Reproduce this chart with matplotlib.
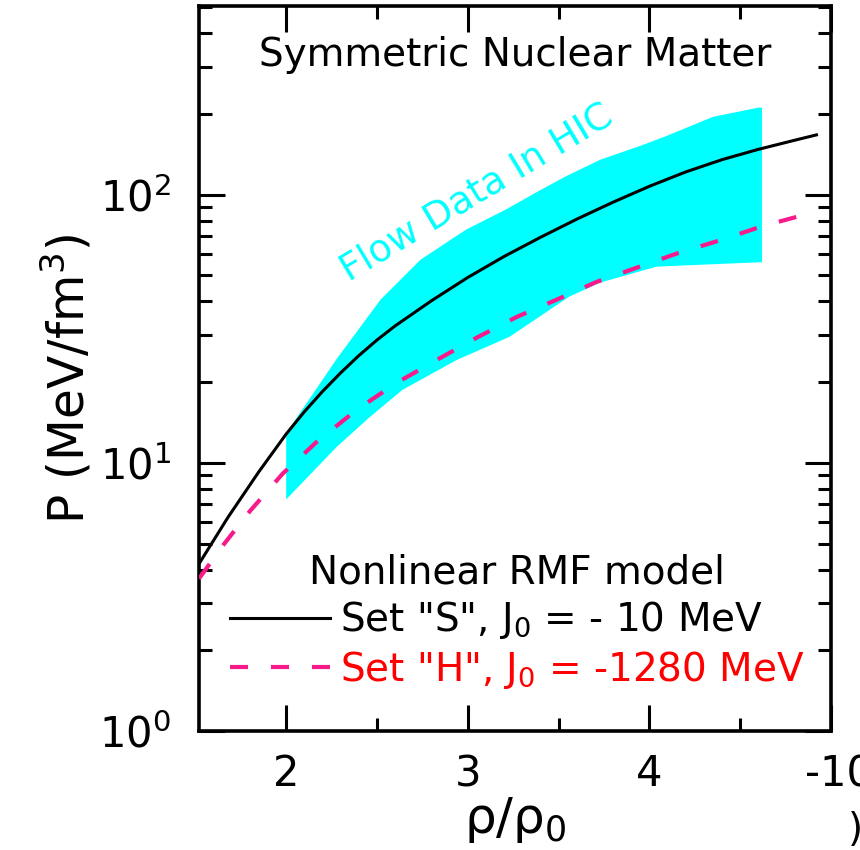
import matplotlib
matplotlib.use("Agg")
import matplotlib.pyplot as plt
from matplotlib.ticker import FixedLocator, LogLocator, NullFormatter
from matplotlib.transforms import ScaledTranslation

plt.rcParams['font.family'] = ['DejaVu Sans']
plt.rcParams['mathtext.fontset'] = 'dejavusans'
plt.rcParams['lines.scale_dashes'] = False

# ---------------- data ----------------
# Set "S" (solid black)
s_x = [1.52, 1.68, 1.85, 2.0, 2.1, 2.2, 2.3, 2.4, 2.5, 2.6, 2.8, 3.0, 3.2, 3.4, 3.6, 3.8, 4.0, 4.2, 4.4, 4.6, 4.8, 4.92]
s_p = [4.2, 6.27, 9.27, 12.8, 15.5, 18.45, 21.65, 25.1, 28.7, 32.4, 40.2, 49.1, 58.8, 69.3, 81.0, 93.7, 107.4, 121.5, 135.0, 147.5, 159.5, 167.0]

# Set "H" (dashed pink)
h_x = [1.52, 1.66, 1.80, 1.98, 2.17, 2.39, 2.61, 2.83, 3.05, 3.27, 3.49, 3.71, 4.16, 4.40, 4.62, 4.92]
h_p = [3.7, 5.0, 6.6, 9.1, 12.0, 15.8, 19.9, 24.2, 29.3, 35.0, 40.6, 47.3, 60.6, 67.9, 76.2, 86.5]

# Flow data band (upper and lower edges)
band_up_x = [2.0, 2.28, 2.52, 2.74, 2.99, 3.21, 3.40, 3.54, 3.73, 3.95, 4.09, 4.35, 4.60, 4.62]
band_up_p = [12.9, 24.5, 40.6, 57.2, 74.0, 88.0, 104.0, 117.0, 135.0, 152.0, 165.0, 195.0, 211.0, 211.0]
band_lo_x = [2.0, 2.28, 2.46, 2.64, 2.94, 3.23, 3.56, 3.73, 4.04, 4.62]
band_lo_p = [7.3, 11.5, 14.8, 18.7, 24.2, 29.5, 41.7, 47.0, 53.9, 56.0]

x_ticks = [2, 3, 4, 5]
x_ticklabels = ['2', '3', '4', '-10']
x_minor = [2.5, 3.5, 4.5]

label_s = r'Set "S", $\mathrm{J}_0$ = - 10 MeV'
label_h = r'Set "H", $\mathrm{J}_0$ = -1280 MeV'

# ---------------- figure ----------------
fig = plt.figure(figsize=(8.6, 8.5), dpi=100)
ax = fig.add_axes([199/860, 1-731/850, 632/860, 725/850])

poly_x = band_up_x + band_lo_x[::-1]
poly_p = band_up_p + band_lo_p[::-1]
ax.fill(poly_x, poly_p, color='#00FFFF', lw=0, zorder=1)

ln_s, = ax.plot(s_x, s_p, color='black', lw=2.2, zorder=3, label=label_s)
ln_h, = ax.plot(h_x, h_p, color='#F8198A', lw=3.0, dashes=(13, 16.5), zorder=3, label=label_h)

ax.set_yscale('log')
ax.set_xlim(1.52, 5.0)
ax.set_ylim(1, 505)

ax.xaxis.set_major_locator(FixedLocator(x_ticks))
ax.set_xticklabels(x_ticklabels)
ax.xaxis.set_minor_locator(FixedLocator(x_minor))
ax.yaxis.set_major_locator(LogLocator(base=10, numticks=10))
ax.yaxis.set_minor_locator(LogLocator(base=10, subs=[2, 3, 4, 5, 6, 7, 8, 9], numticks=10))
ax.yaxis.set_minor_formatter(NullFormatter())

ax.tick_params(which='both', direction='in', top=True, right=True, width=2.2, labelsize=30)
ax.tick_params(which='major', length=19)
ax.tick_params(which='minor', length=9.5)
ax.tick_params(axis='x', which='major', pad=16)
ax.tick_params(axis='y', which='major', pad=20)
for sp in ax.spines.values():
    sp.set_linewidth(2.6)

# the right-most tick label sits slightly to the right (clipped by the figure edge)
lab = ax.xaxis.get_major_ticks()[3].label1
lab.set_transform(lab.get_transform() + ScaledTranslation(8/100, 0, fig.dpi_scale_trans))

ax.set_xlabel('ρ/ρ$_0$', fontsize=36, labelpad=0)
ax.set_ylabel('P (MeV/fm$^3$)', fontsize=35)
ax.yaxis.set_label_coords(-0.165, 0.485)

ax.text(0.5, 0.932, 'Symmetric Nuclear Matter', transform=ax.transAxes,
        ha='center', va='center', fontsize=28)
ax.text(0.44, 0.742, 'Flow Data In HIC', transform=ax.transAxes, color='#00FFFF',
        ha='center', va='center', rotation=31, rotation_mode='anchor', fontsize=27)

leg = ax.legend(handles=[ln_s, ln_h], title='Nonlinear RMF model', loc='upper left',
                bbox_to_anchor=(0.049, 0.245), frameon=False, fontsize=28, title_fontsize=28,
                handlelength=2.57, handletextpad=0.26, labelspacing=0.2, borderpad=0,
                borderaxespad=0, labelcolor=['black', 'red'])

fig.text(855/860, 1-830/850, ')', ha='center', va='center', fontsize=28)

fig.savefig('out.png', dpi=100)
